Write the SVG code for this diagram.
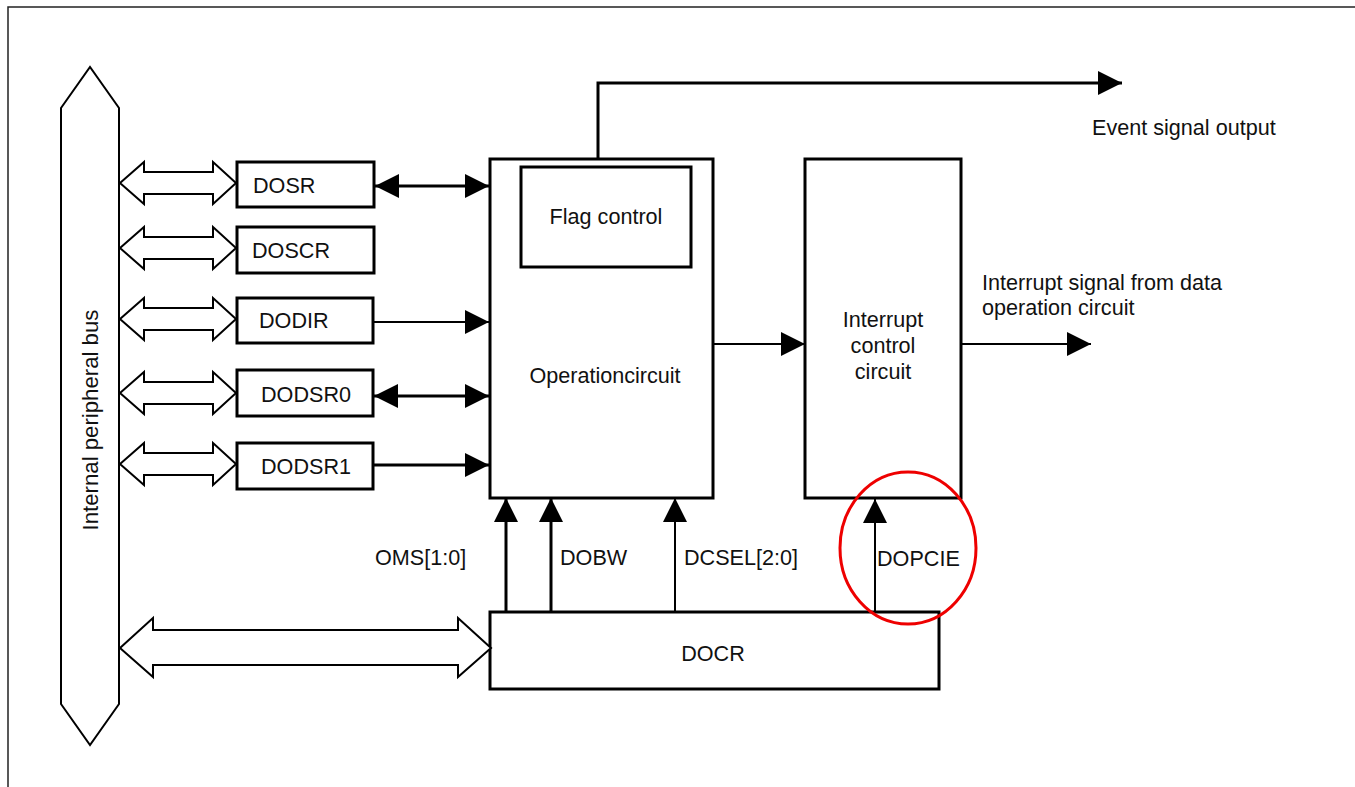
<svg xmlns="http://www.w3.org/2000/svg" width="1355" height="787" viewBox="0 0 1355 787">
<style>
text{font-family:"Liberation Sans",Arial,sans-serif;font-size:21.6px;fill:#111}
.box{fill:#fff;stroke:#000;stroke-width:3}
.hollow{fill:#fff;stroke:#000;stroke-width:2;stroke-linejoin:miter}
.w3{stroke:#000;stroke-width:3;fill:none}
.w2{stroke:#000;stroke-width:2;fill:none}
</style>
<defs>
<marker id="ah" viewBox="0 0 24 24" refX="24" refY="12" markerWidth="24" markerHeight="24" markerUnits="userSpaceOnUse" orient="auto-start-reverse">
<path d="M0,0 L24,12 L0,24 Z" fill="#000"/>
</marker>
</defs>
<rect width="1355" height="787" fill="#fff"/>
<rect x="8" y="7" width="1400" height="820" fill="none" stroke="#222" stroke-width="1.5"/>

<g id="bus">
<polygon class="hollow" points="61,108 90,67 119,108 119,704 90,745 61,704"/>
<text transform="translate(98,420) rotate(-90)" text-anchor="middle" style="font-size:22.2px">Internal peripheral bus</text>
</g>

<g id="DOSR"><rect class="box" x="237" y="162" width="137" height="45"/><text x="253" y="193">DOSR</text></g>
<g id="DOSCR"><rect class="box" x="237" y="227" width="137" height="46"/><text x="252" y="258">DOSCR</text></g>
<g id="DODIR"><rect class="box" x="237" y="298" width="136" height="45"/><text x="259" y="328">DODIR</text></g>
<g id="DODSR0"><rect class="box" x="237" y="370" width="136" height="46"/><text x="261" y="402">DODSR0</text></g>
<g id="DODSR1"><rect class="box" x="237" y="443" width="136" height="46"/><text x="261" y="474">DODSR1</text></g>

<g id="operation">
<rect class="box" x="490" y="159" width="223" height="339"/>
<text x="605" y="383" text-anchor="middle">Operationcircuit</text>
</g>
<g id="flag">
<rect class="box" x="521" y="167" width="170" height="100"/>
<text x="606" y="224" text-anchor="middle">Flag control</text>
</g>
<g id="interrupt">
<rect class="box" x="805" y="159" width="156" height="339"/>
<text x="883" y="327" text-anchor="middle">Interrupt</text>
<text x="883" y="353" text-anchor="middle">control</text>
<text x="883" y="379" text-anchor="middle">circuit</text>
</g>
<g id="DOCR">
<rect class="box" x="490" y="612" width="449" height="77"/>
<text x="713" y="661" text-anchor="middle">DOCR</text>
</g>

<g id="connectors">
<polygon class="hollow" points="120,183 144,162 144,172 213,172 213,162 236,183 213,204 213,194 144,194 144,204"/>
<polygon class="hollow" points="120,248 144,227 144,237 213,237 213,227 236,248 213,269 213,259 144,259 144,269"/>
<polygon class="hollow" points="120,319 144,298 144,308 213,308 213,298 236,319 213,340 213,330 144,330 144,340"/>
<polygon class="hollow" points="120,393 144,372 144,382 213,382 213,372 236,393 213,414 213,404 144,404 144,414"/>
<polygon class="hollow" points="120,464 144,443 144,453 213,453 213,443 236,464 213,485 213,475 144,475 144,485"/>
<polygon class="hollow" points="120,648 153,618 153,630 458,630 458,618 491,648 458,677 458,665 153,665 153,677"/>

<line class="w3" x1="375" y1="186" x2="489" y2="186" marker-start="url(#ah)" marker-end="url(#ah)"/>
<line class="w2" x1="374" y1="322" x2="489" y2="322" marker-end="url(#ah)"/>
<line class="w3" x1="374" y1="396" x2="489" y2="396" marker-start="url(#ah)" marker-end="url(#ah)"/>
<line class="w3" x1="374" y1="465" x2="489" y2="465" marker-end="url(#ah)"/>

<polyline class="w3" points="598,159 598,83 1122,83" marker-end="url(#ah)"/>
<line class="w2" x1="713" y1="344" x2="805" y2="344" marker-end="url(#ah)"/>
<line class="w2" x1="961" y1="344" x2="1091" y2="344" marker-end="url(#ah)"/>

<line class="w3" x1="506" y1="612" x2="506" y2="498" marker-end="url(#ah)"/>
<line class="w3" x1="551" y1="612" x2="551" y2="498" marker-end="url(#ah)"/>
<line class="w2" x1="675" y1="612" x2="675" y2="498" marker-end="url(#ah)"/>
<line class="w2" x1="875" y1="612" x2="875" y2="499" marker-end="url(#ah)"/>

<text x="375" y="565">OMS[1:0]</text>
<text x="560" y="565">DOBW</text>
<text x="684" y="565">DCSEL[2:0]</text>
<text x="877" y="566">DOPCIE</text>
<text x="1092" y="135">Event signal output</text>
<text x="982" y="290">Interrupt signal from data</text>
<text x="982" y="315">operation circuit</text>
</g>
<ellipse cx="908" cy="548" rx="68" ry="76" fill="none" stroke="#e00" stroke-width="3"/>
</svg>
